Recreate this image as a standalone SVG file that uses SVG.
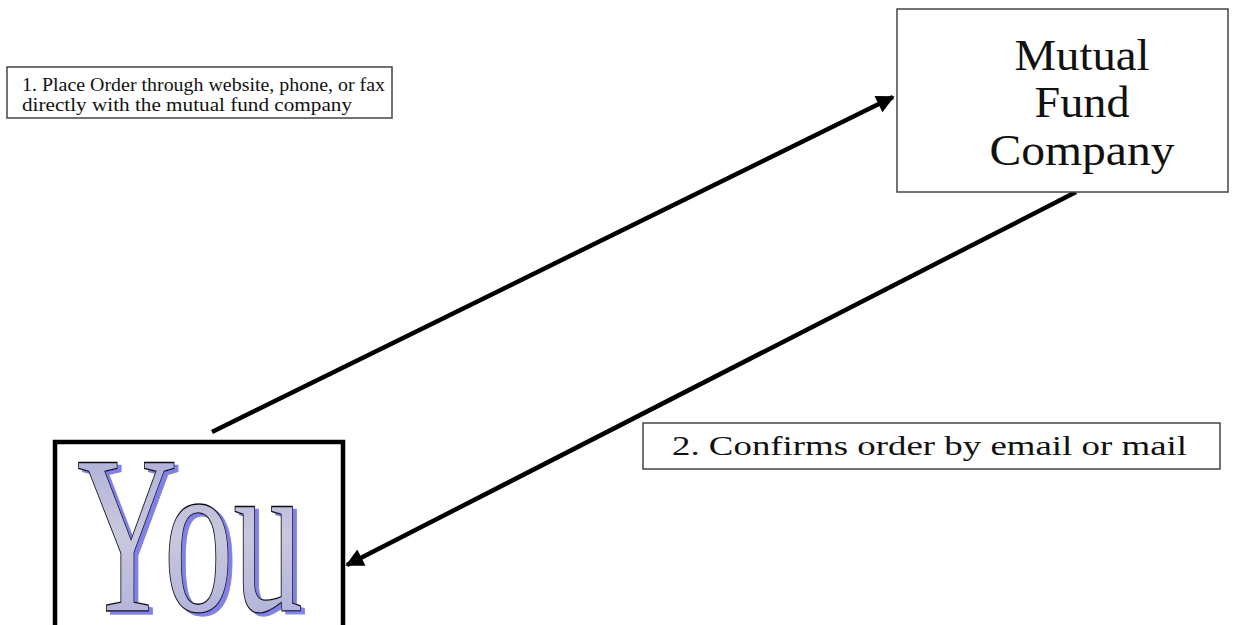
<svg xmlns="http://www.w3.org/2000/svg" width="1244" height="625" viewBox="0 0 1244 625">
<defs>
<style>
.box{fill:#fff;stroke:#444;stroke-width:1.5}
.serif{font-family:"Liberation Serif","Times New Roman",serif;fill:#111}
.conn{stroke:#000;stroke-width:4.5;fill:none}
</style>
<marker id="ah" viewBox="0 0 10 10" refX="9" refY="5" markerWidth="5" markerHeight="4" markerUnits="strokeWidth" orient="auto">
<path d="M0,0 L10,5 L0,10 z" fill="#000"/>
</marker>
<linearGradient id="yg" x1="0" y1="0" x2="0" y2="1">
<stop offset="0" stop-color="#a4a4d8"/>
<stop offset="0.5" stop-color="#c8c8de"/>
<stop offset="1" stop-color="#a8a8da"/>
</linearGradient>
<filter id="shadow" x="-10%" y="-10%" width="130%" height="130%">
<feOffset in="SourceAlpha" dx="4" dy="3" result="off"/>
<feFlood flood-color="#8080e6"/>
<feComposite in2="off" operator="in" result="sh"/>
<feMerge><feMergeNode in="sh"/><feMergeNode in="SourceGraphic"/></feMerge>
</filter>
</defs>
<rect width="1244" height="625" fill="#fff"/>
<g id="connectors">
<line class="conn" x1="212" y1="432" x2="893" y2="97" marker-end="url(#ah)"/>
<line class="conn" x1="1076" y1="192" x2="347" y2="565" marker-end="url(#ah)"/>
</g>
<g id="mutual-fund-company">
<rect class="box" x="897" y="9" width="331" height="183"/>
<text class="serif" font-size="44" text-anchor="middle" x="1082" y="70" textLength="135" lengthAdjust="spacingAndGlyphs">Mutual</text>
<text class="serif" font-size="44" text-anchor="middle" x="1082" y="117" textLength="95" lengthAdjust="spacingAndGlyphs">Fund</text>
<text class="serif" font-size="44" text-anchor="middle" x="1082" y="165" textLength="185" lengthAdjust="spacingAndGlyphs">Company</text>
</g>
<g id="label-1">
<rect class="box" x="7" y="67" width="385" height="51"/>
<text class="serif" font-size="18.5" x="22" y="91" textLength="363" lengthAdjust="spacingAndGlyphs">1.  Place Order through website, phone, or fax</text>
<text class="serif" font-size="18.5" x="22" y="111" textLength="330" lengthAdjust="spacingAndGlyphs">directly with the mutual fund company</text>
</g>
<g id="label-2">
<rect class="box" x="643" y="423" width="577" height="46"/>
<text class="serif" font-size="28" x="672" y="455" textLength="515" lengthAdjust="spacingAndGlyphs">2.  Confirms order by email or mail</text>
</g>
<g id="you">
<rect x="55" y="442" width="288" height="190" fill="#fff" stroke="#000" stroke-width="4.5"/>
<text font-family="Liberation Serif,serif" font-size="226" x="77" y="611" textLength="226" lengthAdjust="spacingAndGlyphs" fill="url(#yg)" stroke="#111" stroke-width="1.3" filter="url(#shadow)">You</text>
</g>
</svg>
